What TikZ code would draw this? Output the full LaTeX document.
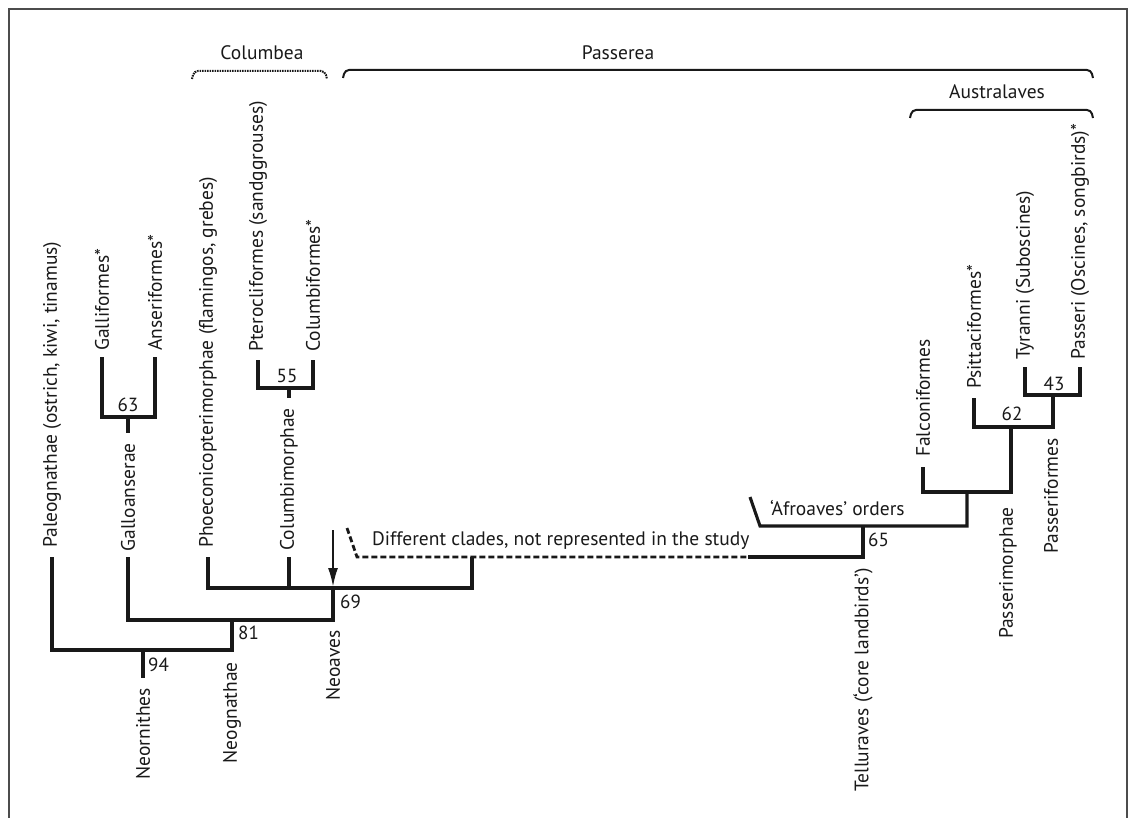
\documentclass[tikz,border=0pt]{standalone}
\usepackage{fontspec}
\setmainfont{PT Sans}
\usetikzlibrary{arrows.meta}
\begin{document}
\begin{tikzpicture}[x=1pt,y=-1pt,
  tree/.style={line width=3.1pt, line join=miter, draw=black!90},
  dashbranch/.style={line width=2.8pt, draw=black!90, dash pattern=on 6pt off 3pt},
  lab/.style={font=\fontsize{19.5}{23}\selectfont, inner sep=0pt, text=black!90},
  upl/.style={lab, rotate=90, anchor=west},
  dnl/.style={lab, rotate=90, anchor=east},
  num/.style={lab, font=\fontsize{19}{22}\selectfont},
  frame/.style={line width=2pt, draw=black!70},
  brace/.style={line width=2pt, rounded corners=4pt, draw=black!90}]
\useasboundingbox (0,0) rectangle (1131,818);
\draw[frame] (9,818) -- (9,9) -- (1127,9) -- (1127,818);

% ---- group brackets
\node[lab] (columbea) at (262,53) {Columbea};
\node[lab] (passerea) at (618,53) {Passerea};
\node[lab] (austral) at (997,92) {Australaves};
\coordinate (cbL) at (192,79); \coordinate (cbR) at (327,79);
\coordinate (pbL) at (343,78); \coordinate (pbR) at (1093,78);
\coordinate (abL) at (910,118); \coordinate (abR) at (1093,118);
\draw[brace, dash pattern=on 1.6pt off 0.9pt] (cbL) -- ++(2,-8) -- (325,71) -- (cbR);
\draw[brace] (pbL) -- ++(2,-8) -- (1091,70) -- (pbR);
\draw[brace] (abL) -- ++(2,-8) -- (1091,110) -- (abR);

% ---- labels
\node[upl] (paleo) at (52,548) {Paleognathae (ostrich, kiwi, tinamus)};
\node[upl] (galli) at (102,351) {Galliformes*};
\node[upl] (anser) at (155,351) {Anseriformes*};
\node[dnl] (gallo) at (128,443) {Galloanserae};
\node[upl] (phoe) at (208,548) {Phoeconicopterimorphae (flamingos, grebes)};
\node[upl] (ptero) at (258,352) {Pterocliformes (sandggrouses)};
\node[upl] (colf) at (313,352) {Columbiformes*};
\node[dnl] (colm) at (289,408) {Columbimorphae};
\node[dnl] (neoaves) at (333,630) {Neoaves};
\node[dnl] (neogn) at (232,662) {Neognathae};
\node[dnl] (neorn) at (143,688) {Neornithes};
\node[dnl] (tellu) at (863,568) {Telluraves (‘core landbirds’)};
\node[upl] (falco) at (923,457) {Falconiformes};
\node[upl] (psitt) at (974,389) {Psittaciformes*};
\node[upl] (tyr) at (1025,360) {Tyranni (Suboscines)};
\node[upl] (passeri) at (1080,360) {Passeri (Oscines, songbirds)*};
\node[dnl] (passerif) at (1051,438) {Passeriformes};
\node[dnl] (passerim) at (1008,507) {Passerimorphae};
\node[lab, anchor=base west] (diff) at (372,545) {Different clades, not represented in the study};
\node[lab, anchor=base west] (afro) at (770,515) {‘Afroaves’ orders};

% ---- support values
\node[num] (n63) at (128,405) {63};
\node[num] (n55) at (287,376) {55};
\node[num, anchor=west] (n69) at (340,602) {69};
\node[num, anchor=west] (n81) at (238,633) {81};
\node[num, anchor=west] (n94) at (148,665) {94};
\node[num, anchor=west] (n65) at (868,540) {65};
\node[num] (n62) at (1012,414) {62};
\node[num] (n43) at (1054,384) {43};

% ---- coordinates of the tree
\coordinate (paT) at (52,557);   \coordinate (paB) at (52,650);
\coordinate (gaT) at (102,357);  \coordinate (gaB) at (102,417);
\coordinate (anT) at (155,357);  \coordinate (anB) at (155,417);
\coordinate (g63) at (128,417);  \coordinate (g63s) at (128,433);
\coordinate (glT) at (128,557);  \coordinate (glB) at (128,620);
\coordinate (phT) at (208,557);  \coordinate (phB) at (208,588);
\coordinate (ptT) at (258,360);  \coordinate (ptB) at (258,388);
\coordinate (cfT) at (313,360);  \coordinate (cfB) at (313,388);
\coordinate (c55) at (289,388);  \coordinate (c55s) at (289,398);
\coordinate (cmT) at (289,557);  \coordinate (cmB) at (289,588);
\coordinate (naT) at (333,588);  \coordinate (naB) at (333,620);
\coordinate (ngT) at (232,620);  \coordinate (ngB) at (232,650);
\coordinate (nrT) at (143,650);  \coordinate (nrB) at (143,678);
\coordinate (ogT) at (472,557);  \coordinate (ogB) at (472,588);
\coordinate (arT) at (333,530);  \coordinate (arB) at (333,587);
\coordinate (dsA) at (347,528);  \coordinate (dsB) at (357,557);
\coordinate (dsC) at (748,557);
\coordinate (tlB) at (863,557);  \coordinate (tlT) at (863,526);
\coordinate (afA) at (750,497);  \coordinate (afB) at (760,526);
\coordinate (afC) at (967,526);  \coordinate (afD) at (967,492);
\coordinate (fcT) at (923,467);  \coordinate (fcB) at (923,492);
\coordinate (pmB) at (1011,492); \coordinate (pmT) at (1011,427);
\coordinate (psT) at (974,398);  \coordinate (psB) at (974,427);
\coordinate (pfB) at (1053,427); \coordinate (pfT) at (1053,395);
\coordinate (tyT) at (1025,367); \coordinate (tyB) at (1025,395);
\coordinate (prT) at (1080,367); \coordinate (prB) at (1080,395);

% ---- branches
\draw[tree] (gaT) -- (gaB) -- (anB) -- (anT);
\draw[tree] (g63) -- (g63s);
\draw[tree] (ptT) -- (ptB) -- (cfB) -- (cfT);
\draw[tree] (c55) -- (c55s);
\draw[tree] (paT) -- (paB) -- (ngB) -- (ngT);
\draw[tree] (nrT) -- (nrB);
\draw[tree] (glT) -- (glB) -- (naB) -- (naT);
\draw[tree] (phT) -- (phB) -- (ogB) -- (ogT);
\draw[tree] (cmT) -- (cmB);
\draw[dashbranch] (dsA) -- (dsB) -- (dsC);
\draw[tree] (dsC) -- (tlB) -- (tlT);
\draw[tree] (afA) -- (afB) -- (afC) -- (afD);
\draw[tree] (fcT) -- (fcB) -- (pmB) -- (pmT);
\draw[tree] (psT) -- (psB) -- (pfB) -- (pfT);
\draw[tree] (tyT) -- (tyB) -- (prB) -- (prT);
\draw[line width=2.2pt, draw=black!90, -{Latex[length=19pt,width=10pt]}] (arT) -- (arB);
\end{tikzpicture}
\end{document}
